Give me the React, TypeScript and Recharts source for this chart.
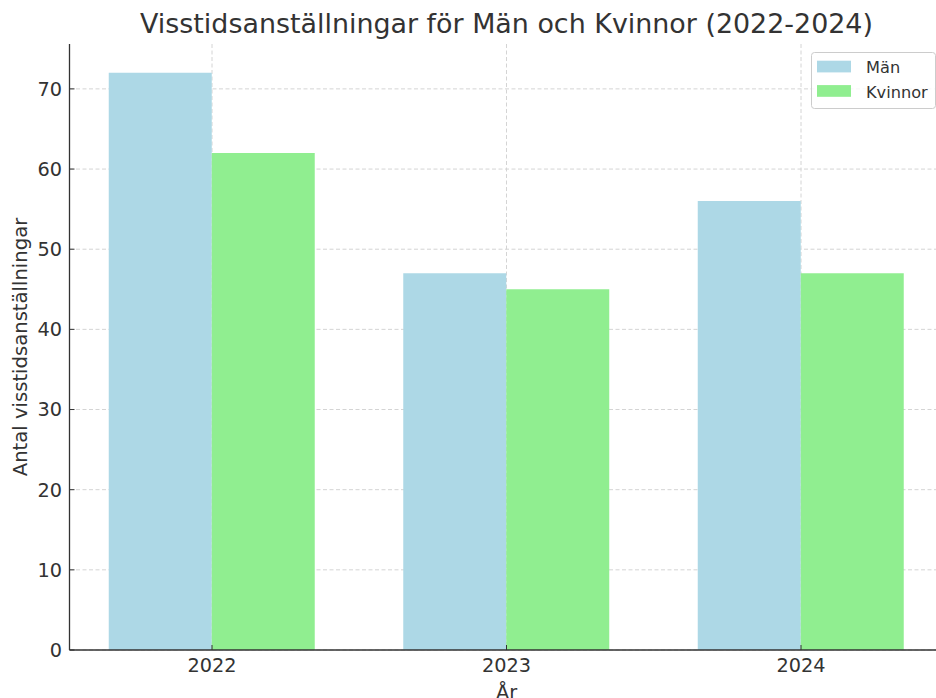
import React from 'react';
import { BarChart, Bar, XAxis, YAxis, CartesianGrid, Legend, Label } from 'recharts';

const years = ['2022', '2023', '2024'];
const menValues = [72, 47, 56];
const womenValues = [62, 45, 47];
const yTicks = [0, 10, 20, 30, 40, 50, 60, 70];
const seriesNames = ['Män', 'Kvinnor'];
const seriesColors = ['#ADD8E6', '#90EE90'];
const titleText = 'Visstidsanställningar för Män och Kvinnor (2022-2024)';
const xLabelText = 'År';
const yLabelText = 'Antal visstidsanställningar';

const data = years.map((y, i) => ({ year: y, men: menValues[i], women: womenValues[i] }));

const FONT = '"DejaVu Sans", sans-serif';
const TEXT = '#333333';

const renderLegend = (props: any) => {
  const raw = props.payload || [];
  const payload = [...raw].sort(
    (a: any, b: any) => seriesNames.indexOf(a.value) - seriesNames.indexOf(b.value)
  );
  return (
    <svg width={126} height={58} style={{ display: 'block', overflow: 'visible' }}>
      <rect x={0.5} y={0.5} width={124} height={56} rx={3} ry={3} fill="#ffffff" fillOpacity={0.8} stroke="#cccccc" strokeWidth={1} />
      {payload.map((p: any, i: number) => (
        <g key={i}>
          <rect x={6} y={8.7 + i * 24.4} width={34} height={11.7} fill={p.color} />
          <text x={55} y={21.3 + i * 24.4} fill={TEXT} fontSize={16.2} fontFamily={FONT}>
            {p.value}
          </text>
        </g>
      ))}
    </svg>
  );
};

export default function App() {
  return (
    <div style={{ position: 'absolute', left: 0, top: 0, width: 936, height: 698, overflow: 'hidden', background: '#fff' }}>
      <BarChart
        width={936}
        height={698}
        data={data}
        margin={{ top: 44, right: 0, bottom: 0, left: 0 }}
        barGap={0}
        style={{ fontFamily: FONT }}
      >
        <CartesianGrid
          stroke="#d4d4d4"
          strokeDasharray="4 2.5"
          strokeWidth={1}
          horizontalValues={yTicks}
          verticalValues={years}
        />
        <XAxis
          dataKey="year"
          height={48}
          interval={0}
          padding={{ left: -4.75, right: -12.25 }}
          tickSize={-5}
          tickMargin={13}
          axisLine={{ stroke: TEXT, strokeWidth: 1.3 }}
          tickLine={{ stroke: TEXT, strokeWidth: 1 }}
          tick={{ fill: TEXT, fontSize: 19.3, fontFamily: FONT }}
        >
          <Label value={xLabelText} position="insideBottom" offset={-1} dx={3.75} fill={TEXT} fontSize={19.3} fontFamily={FONT} />
        </XAxis>
        <YAxis
          type="number"
          domain={[0, 75.6]}
          ticks={yTicks}
          allowDataOverflow
          width={69.5}
          tickSize={-5}
          tickMargin={12.5}
          axisLine={{ stroke: TEXT, strokeWidth: 1.3 }}
          tickLine={{ stroke: TEXT, strokeWidth: 1 }}
          tick={{ fill: TEXT, fontSize: 19.3, fontFamily: FONT }}
        >
          <Label
            value={yLabelText}
            angle={-90}
            position="insideLeft"
            offset={20.5}
            style={{ textAnchor: 'middle' }}
            fill={TEXT}
            fontSize={19.6}
            fontFamily={FONT}
          />
        </YAxis>
        <Legend
          layout="vertical"
          align="center"
          verticalAlign="middle"
          itemSorter={null as any}
          content={renderLegend}
          wrapperStyle={{ left: 811, top: 52, width: 126, height: 58, margin: 0 }}
        />
        <Bar dataKey="men" name={seriesNames[0]} fill={seriesColors[0]} barSize={103} isAnimationActive={false} />
        <Bar dataKey="women" name={seriesNames[1]} fill={seriesColors[1]} barSize={103} isAnimationActive={false} />
      </BarChart>
      <svg width={936} height={44} style={{ position: 'absolute', left: 0, top: 0 }}>
        <text x={506.5} y={33.3} textAnchor="middle" fill={TEXT} fontSize={26.9} fontFamily={FONT}>
          {titleText}
        </text>
      </svg>
    </div>
  );
}
